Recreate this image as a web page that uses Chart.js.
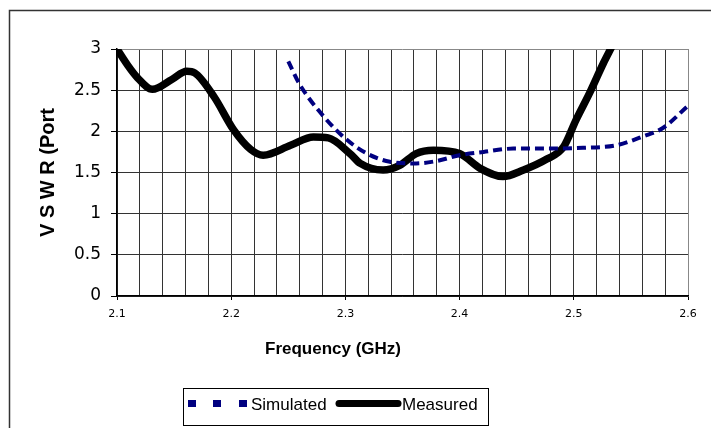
<!DOCTYPE html>
<html>
<head>
<meta charset="utf-8">
<script src="https://cdn.jsdelivr.net/npm/chart.js@4.4.1/dist/chart.umd.min.js"></script>
<style>
    html, body { margin: 0; padding: 0; background: #fff; }
    #wrap { width: 711px; height: 428px; position: relative; }
</style>
</head>
<body>
<div id="wrap"><canvas id="vswrChart" width="711" height="428"></canvas></div>
<script>
// Data
const measuredFreq = [2.1, 2.109, 2.118, 2.131, 2.148, 2.161, 2.168, 2.185, 2.202, 2.217, 2.228, 2.252, 2.272, 2.285, 2.304, 2.313, 2.333, 2.348, 2.362, 2.377, 2.4, 2.418, 2.438, 2.456, 2.476, 2.491, 2.502, 2.514, 2.526, 2.533];
const measuredVswr = [3.0, 2.81, 2.65, 2.51, 2.63, 2.73, 2.71, 2.42, 2.02, 1.78, 1.71, 1.83, 1.93, 1.92, 1.73, 1.61, 1.53, 1.59, 1.73, 1.77, 1.73, 1.55, 1.45, 1.53, 1.66, 1.81, 2.14, 2.47, 2.83, 3.02];

const simFreq = [2.25, 2.26, 2.281, 2.301, 2.319, 2.339, 2.362, 2.38, 2.4, 2.421, 2.447, 2.478, 2.508, 2.537, 2.561, 2.578, 2.6];
const simVswr = [2.85, 2.57, 2.18, 1.9, 1.73, 1.63, 1.61, 1.64, 1.71, 1.75, 1.79, 1.79, 1.8, 1.83, 1.94, 2.04, 2.31];

const seriesLabels = ['Simulated', 'Measured'];
const xTitle = 'Frequency (GHz)';
const yTitle = 'V S W R (Port';

const FONT = '"Liberation Sans", Arial, sans-serif';
const TICK_FONT = '"DejaVu Sans", sans-serif';

function toPoints(xs, ys) {
    return xs.map(function(x, i) { return { x: x, y: ys[i] }; });
}

// Outer frame, x title and legend box
const framePlugin = {
    id: 'frame',
    beforeDraw: function(chart) {
        const c = chart.ctx;
        c.save();
        c.fillStyle = '#fff';
        c.fillRect(0, 0, chart.width, chart.height);
        c.strokeStyle = '#333';
        c.lineWidth = 1.5;
        c.strokeRect(9.5, 10.5, 760, 480);
        c.restore();
    },
    afterDraw: function(chart) {
        const c = chart.ctx;
        const sim = chart.data.datasets[0];
        const meas = chart.data.datasets[1];
        c.save();

        // x axis title (sits left of the plot centre, like the original)
        c.fillStyle = '#000';
        c.font = 'bold 17px ' + FONT;
        c.textAlign = 'center';
        c.textBaseline = 'middle';
        c.fillText(xTitle, 333, 349);

        c.strokeStyle = '#000';
        c.lineWidth = 1;
        c.strokeRect(183.5, 388.5, 305, 37);

        // simulated sample: dashes
        c.fillStyle = sim.borderColor;
        [188, 213, 239].forEach(function(x) { c.fillRect(x, 400, 8, 7); });

        // measured sample: thick line
        c.strokeStyle = meas.borderColor;
        c.lineWidth = 7;
        c.lineCap = 'round';
        c.beginPath();
        c.moveTo(339, 403.5);
        c.lineTo(398, 403.5);
        c.stroke();

        c.fillStyle = '#000';
        c.font = '17px ' + FONT;
        c.textAlign = 'left';
        c.textBaseline = 'middle';
        c.fillText(sim.label, 251, 405);
        c.fillText(meas.label, 402, 405);
        c.restore();
    }
};

const ctx = document.getElementById('vswrChart').getContext('2d');
const vswrChart = new Chart(ctx, {
    type: 'line',
    data: {
        datasets: [
            {
                label: seriesLabels[0],
                data: toPoints(simFreq, simVswr),
                borderColor: '#000080',
                borderWidth: 4,
                borderDash: [9, 5],
                pointRadius: 0,
                cubicInterpolationMode: 'monotone',
                fill: false,
                clip: 0
            },
            {
                label: seriesLabels[1],
                data: toPoints(measuredFreq, measuredVswr),
                borderColor: '#000000',
                borderWidth: 7.5,
                borderCapStyle: 'round',
                borderJoinStyle: 'round',
                pointRadius: 0,
                cubicInterpolationMode: 'monotone',
                fill: false,
                clip: 0
            }
        ]
    },
    options: {
        responsive: false,
        animation: false,
        layout: { padding: { left: 36, top: 49, right: 23, bottom: 70 } },
        plugins: {
            legend: { display: false },
            tooltip: { enabled: false }
        },
        scales: {
            x: {
                type: 'linear',
                min: 2.1,
                max: 2.6,
                afterFit: function(axis) { axis.height = 62; },
                border: { color: '#000', width: 1.5 },
                grid: {
                    color: function(c) { return c.tick && Math.abs(c.tick.value - 2.6) < 1e-6 ? '#888' : '#333'; },
                    lineWidth: 1,
                    tickLength: 4,
                    tickColor: function(c) {
                        const v = Math.round(c.tick.value * 100);
                        return v % 10 === 0 ? '#000' : 'rgba(0,0,0,0)';
                    }
                },
                ticks: {
                    stepSize: 0.02,
                    autoSkip: false,
                    maxRotation: 0,
                    padding: 8,
                    color: '#000',
                    font: { family: TICK_FONT, size: 11 },
                    callback: function(value) {
                        const v = Math.round(value * 100);
                        return v % 10 === 0 ? (v / 100).toFixed(1) : '';
                    }
                },
                title: { display: false }
            },
            y: {
                min: 0,
                max: 3,
                afterFit: function(axis) { axis.width = 81; },
                border: { color: '#000', width: 1.5 },
                grid: {
                    color: function(c) { return c.tick && c.tick.value === 3 ? '#888' : '#333'; },
                    lineWidth: 1,
                    tickLength: 6,
                    tickColor: '#000'
                },
                ticks: {
                    stepSize: 0.5,
                    padding: 10,
                    color: '#000',
                    font: { family: TICK_FONT, size: 17 },
                    callback: function(value) { return String(Math.round(value * 10) / 10); }
                },
                title: {
                    display: true,
                    text: yTitle,
                    color: '#000',
                    font: { family: FONT, size: 20, weight: 'bold' },
                    padding: 0
                }
            }
        }
    },
    plugins: [framePlugin]
});
</script>
</body>
</html>
